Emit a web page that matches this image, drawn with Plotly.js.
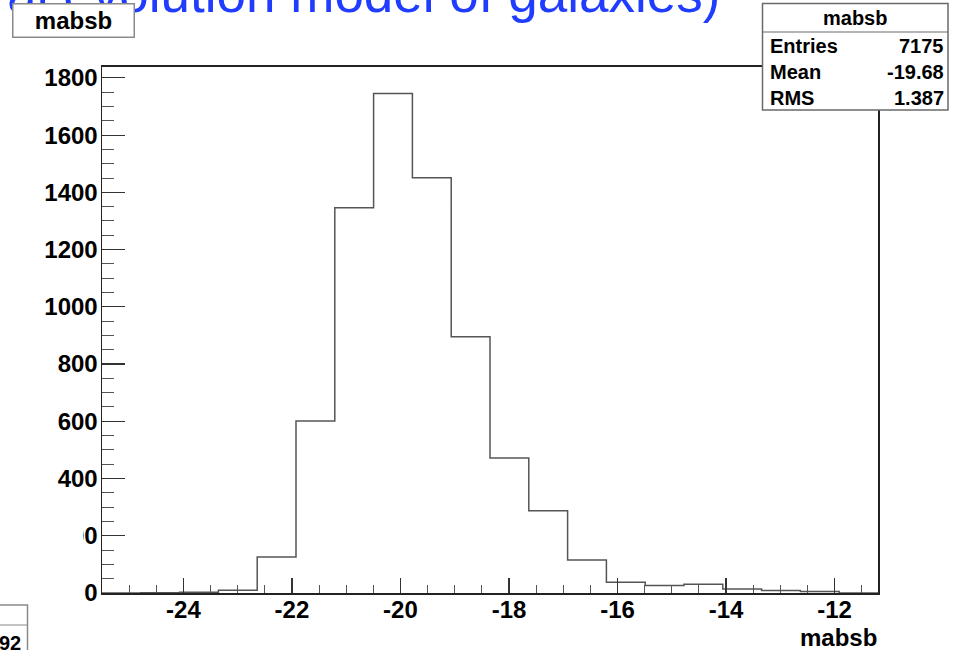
<!DOCTYPE html>
<html>
<head>
<meta charset="utf-8">
<script src="https://cdn.plot.ly/plotly-3.0.1.min.js"></script>
<style>
  html, body { margin: 0; padding: 0; background: #ffffff; }
  #plot { width: 953px; height: 650px; }
</style>
</head>
<body>
<div id="plot"></div>
<script>
// Histogram "mabsb": 20 bins between xMin and xMax
const histName = "mabsb";
const xMin = -25.5;
const xMax = -11.2;
const binCounts = [0, 1, 3, 10, 126, 601, 1346, 1745, 1451, 895,
                   472, 287, 115, 38, 26, 31, 14, 9, 5, 0];

// Statistics box rows
const statLabels = ["Entries", "Mean", "RMS"];
const statValues = ["7175", "-19.68", "1.387"];

// Axis ticks (ROOT prints a plain hyphen for negatives)
const xTickVals = [-24, -22, -20, -18, -16, -14, -12];
const xTickText = ["-24", "-22", "-20", "-18", "-16", "-14", "-12"];
const yTickVals = [0, 200, 400, 600, 800, 1000, 1200, 1400, 1600, 1800];

// Slide caption above the canvas
const captionText = "tral evolution model of galaxies)";
const sideBoxValue = "92";

// Bin edges and step outline (ROOT-style histogram contour)
const nBins = binCounts.length;
const binWidth = (xMax - xMin) / nBins;
const edges = binCounts.map((_, i) => xMin + i * binWidth).concat([xMax]);
const stepX = [edges[0]].concat(edges.slice(0, nBins), [edges[nBins], edges[nBins]]);
const stepY = [0].concat(binCounts, [binCounts[nBins - 1], 0]);

// Frame geometry in pixels
const W = 953, H = 650;
const L = 102, R = 878, T = 67, B = 593;
const px = x => (x - L) / (R - L);
const py = y => (B - y) / (B - T);

const FONT = "Liberation Sans, Arial, Helvetica, sans-serif";
const bold = (size, color) => ({ family: FONT, size: size, color: color || "#000", weight: "bold" });

const trace = {
  type: "scatter",
  mode: "lines",
  x: stepX,
  y: stepY,
  line: { shape: "hv", color: "#555555", width: 1.5 },
  hoverinfo: "skip",
  showlegend: false
};

const shapes = [];
const annotations = [];

// Slide caption (cut by the top edge), drawn first so boxes sit over it
annotations.push({ xref: "paper", yref: "paper", x: px(722), y: py(-7),
  xanchor: "right", yanchor: "middle", showarrow: false,
  text: captionText, font: { family: FONT, size: 53, color: "#1f3cff" } });

// Title box
annotations.push({ xref: "paper", yref: "paper", x: px(73), y: py(20.5),
  xanchor: "center", yanchor: "middle", showarrow: false,
  width: 118, height: 30, borderpad: 1,
  bgcolor: "#ffffff", bordercolor: "#8a8a8a", borderwidth: 1.5,
  text: histName, font: bold(24) });

// Hide the leading digits of the 200 label (covered on the slide)
shapes.push({ type: "rect", xref: "paper", yref: "paper", layer: "above",
  x0: px(50), x1: px(83), y0: py(549), y1: py(523),
  fillcolor: "#ffffff", line: { width: 0 } });

// Statistics box
shapes.push({ type: "rect", xref: "paper", yref: "paper", layer: "above",
  x0: px(762.5), x1: px(948), y0: py(110), y1: py(3.5),
  fillcolor: "#ffffff", line: { color: "#6a6a6a", width: 1.5 } });
shapes.push({ type: "line", xref: "paper", yref: "paper", layer: "above",
  x0: px(762.5), x1: px(948), y0: py(32), y1: py(32),
  line: { color: "#6a6a6a", width: 1.2 } });
annotations.push({ xref: "paper", yref: "paper", x: px(855), y: py(18),
  xanchor: "center", yanchor: "middle", showarrow: false,
  text: histName, font: bold(20) });
statLabels.forEach((lab, i) => {
  const yc = 46 + i * 26;
  annotations.push({ xref: "paper", yref: "paper", x: px(768), y: py(yc),
    xanchor: "left", yanchor: "middle", showarrow: false,
    text: lab, font: bold(20) });
  annotations.push({ xref: "paper", yref: "paper", x: px(946), y: py(yc),
    xanchor: "right", yanchor: "middle", showarrow: false,
    text: statValues[i], font: bold(20) });
});

// Partly visible box in the lower left corner
shapes.push({ type: "rect", xref: "paper", yref: "paper", layer: "above",
  x0: px(-5), x1: px(27.5), y0: py(660), y1: py(605),
  fillcolor: "#ffffff", line: { color: "#8a8a8a", width: 1.5 } });
shapes.push({ type: "line", xref: "paper", yref: "paper", layer: "above",
  x0: px(-5), x1: px(27.5), y0: py(625), y1: py(625),
  line: { color: "#8a8a8a", width: 1.2 } });
annotations.push({ xref: "paper", yref: "paper", x: px(23), y: py(643),
  xanchor: "right", yanchor: "middle", showarrow: false,
  text: sideBoxValue, font: bold(20) });

// X axis title, right aligned under the frame
annotations.push({ xref: "paper", yref: "paper", x: px(879), y: py(637),
  xanchor: "right", yanchor: "middle", showarrow: false,
  text: histName, font: bold(24) });

const layout = {
  width: W, height: H,
  margin: { l: L, r: W - R, t: T, b: H - B, pad: 0 },
  paper_bgcolor: "#ffffff",
  plot_bgcolor: "#ffffff",
  showlegend: false,
  xaxis: {
    range: [xMin, xMax],
    tickmode: "array", tickvals: xTickVals, ticktext: xTickText,
    ticks: "inside", ticklen: 15, tickwidth: 1.2, tickcolor: "#333",
    minor: { ticks: "inside", ticklen: 8, dtick: 0.5, tick0: -24, tickwidth: 1, tickcolor: "#555", showgrid: false },
    showline: true, linecolor: "#222", linewidth: 2, mirror: true,
    showgrid: false, zeroline: false,
    tickfont: bold(24),
    ticklabelstandoff: -6
  },
  yaxis: {
    range: [0, 1838],
    tickmode: "array", tickvals: yTickVals,
    ticks: "inside", ticklen: 23, tickwidth: 1.2, tickcolor: "#333",
    minor: { ticks: "inside", ticklen: 12, dtick: 50, tick0: 0, tickwidth: 1, tickcolor: "#555", showgrid: false },
    showline: true, linecolor: "#222", linewidth: 1.5, mirror: true,
    showgrid: false, zeroline: false,
    tickfont: bold(24),
    ticklabelstandoff: -2
  },
  shapes: shapes,
  annotations: annotations
};

Plotly.newPlot("plot", [trace], layout, { staticPlot: true, displayModeBar: false });
</script>
</body>
</html>
